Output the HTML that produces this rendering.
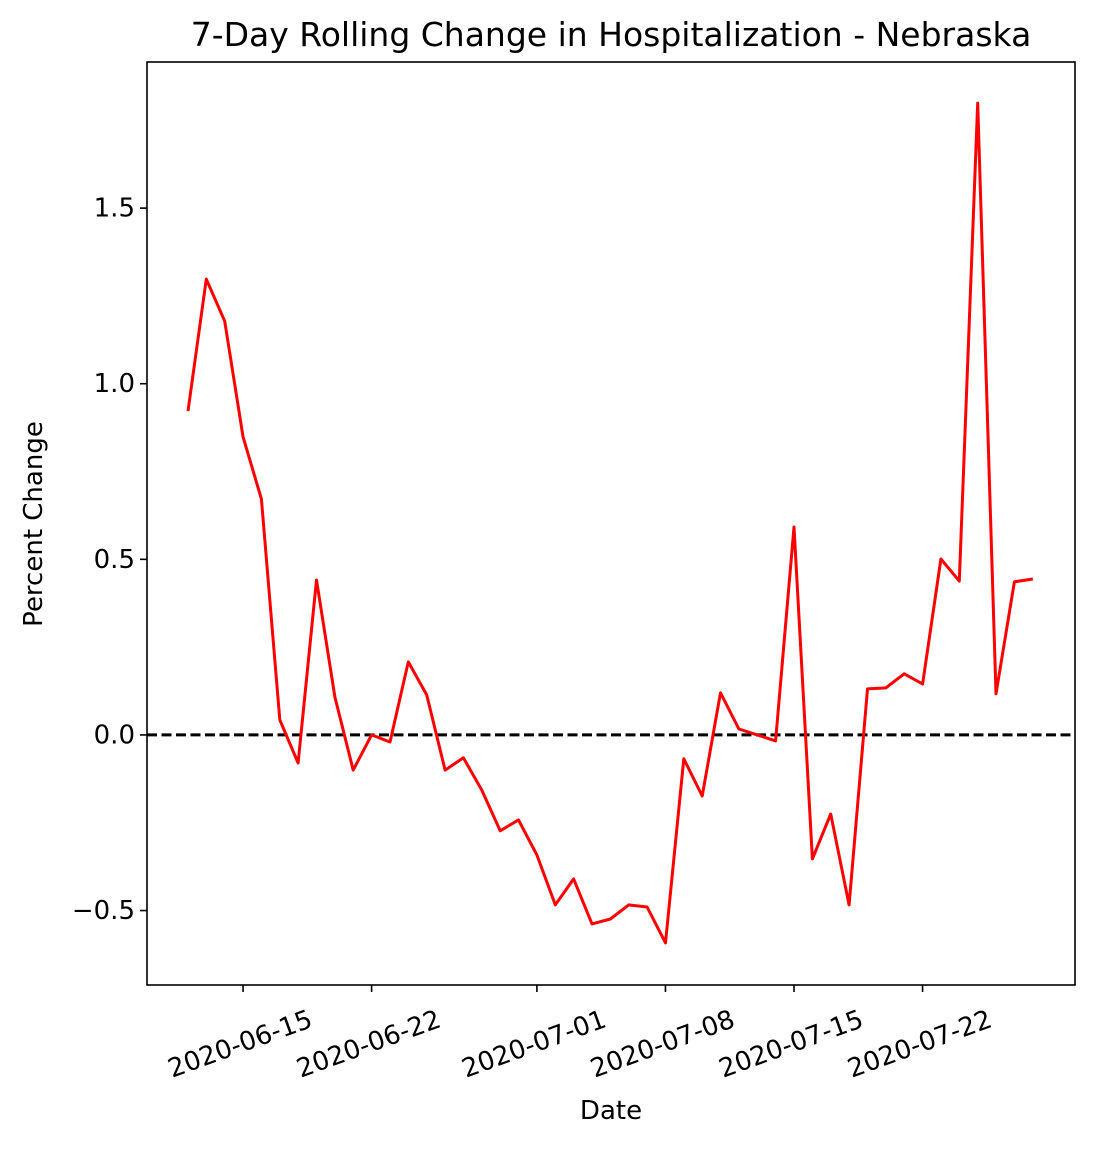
<!DOCTYPE html>
<html><head><meta charset="utf-8"><style>
body{margin:0;background:#fff}
svg text{font-family:"DejaVu Sans","Liberation Sans",sans-serif;fill:#000}
</style></head><body>
<svg id="chart" width="1096" height="1146" xmlns="http://www.w3.org/2000/svg">
<text x="611" y="46" font-size="33" text-anchor="middle">7-Day Rolling Change in Hospitalization - Nebraska</text>
<text x="611" y="1119" font-size="26" text-anchor="middle">Date</text>
<text transform="translate(42,524) rotate(-90)" font-size="26" text-anchor="middle">Percent Change</text>
<g id="plot"></g>
</svg>
<script>
const startDate = "2020-06-12";
const values = [0.922,1.298,1.178,0.848,0.672,0.043,-0.08,0.441,0.108,-0.10,0.0,-0.02,0.208,0.114,-0.10,-0.065,-0.157,-0.273,-0.242,-0.342,-0.484,-0.41,-0.538,-0.524,-0.484,-0.49,-0.592,-0.068,-0.174,0.12,0.017,0.0,-0.017,0.592,-0.353,-0.225,-0.484,0.131,0.134,0.174,0.145,0.501,0.438,1.799,0.117,0.436,0.444];
const yTicks = [-0.5,0.0,0.5,1.0,1.5];
const yTickLabels = ["\u22120.5","0.0","0.5","1.0","1.5"];
const xTickLabels = ["2020-06-15","2020-06-22","2020-07-01","2020-07-08","2020-07-15","2020-07-22"];

const L=147,R=1075,T=62,B=985;
const base=Date.parse("2020-06-15");
const day=86400000;
const dmin=-5.23,dmax=45.3,ymin=-0.712,ymax=1.916;
const xs=d=>L+(d-dmin)/(dmax-dmin)*(R-L);
const ys=v=>B-(v-ymin)/(ymax-ymin)*(B-T);
const dayOf=s=>(Date.parse(s)-base)/day;
const NS="http://www.w3.org/2000/svg";
const g=document.getElementById('plot');
function mk(t,a){const e=document.createElementNS(NS,t);for(const k in a)e.setAttribute(k,a[k]);g.appendChild(e);return e;}

const zl=mk('line',{x1:L,x2:R,y1:ys(0),y2:ys(0),stroke:'#000','stroke-width':3,'stroke-dasharray':'10,4.5'});



const d0=dayOf(startDate);
const pts=values.map((v,i)=>xs(d0+i).toFixed(1)+','+ys(v).toFixed(1)).join(' ');
const pl=mk('polyline',{points:pts,fill:'none',stroke:'#ff0000','stroke-width':3,'stroke-linejoin':'round'});



yTicks.forEach((v,i)=>{
  const y=ys(v);
  const tk=mk('line',{x1:L-7,x2:L,y1:y,y2:y,stroke:'#000','stroke-width':1.6});
  
  
  const t=mk('text',{x:L-12,y:y+8.5,'font-size':26,'text-anchor':'end'});
  t.textContent=yTickLabels[i];
  
  
});
xTickLabels.forEach(s=>{
  const x=xs(dayOf(s));
  const tk=mk('line',{x1:x,x2:x,y1:B,y2:B+7,stroke:'#000','stroke-width':1.6});
  
  
  const t=mk('text',{transform:`translate(${x},${B+67}) rotate(-20)`,'font-size':26,'text-anchor':'middle'});
  t.textContent=s;
  
  
});
const fr=mk('rect',{x:L,y:T,width:R-L,height:B-T,fill:'none',stroke:'#000','stroke-width':1.6});


</script>
</body></html>
